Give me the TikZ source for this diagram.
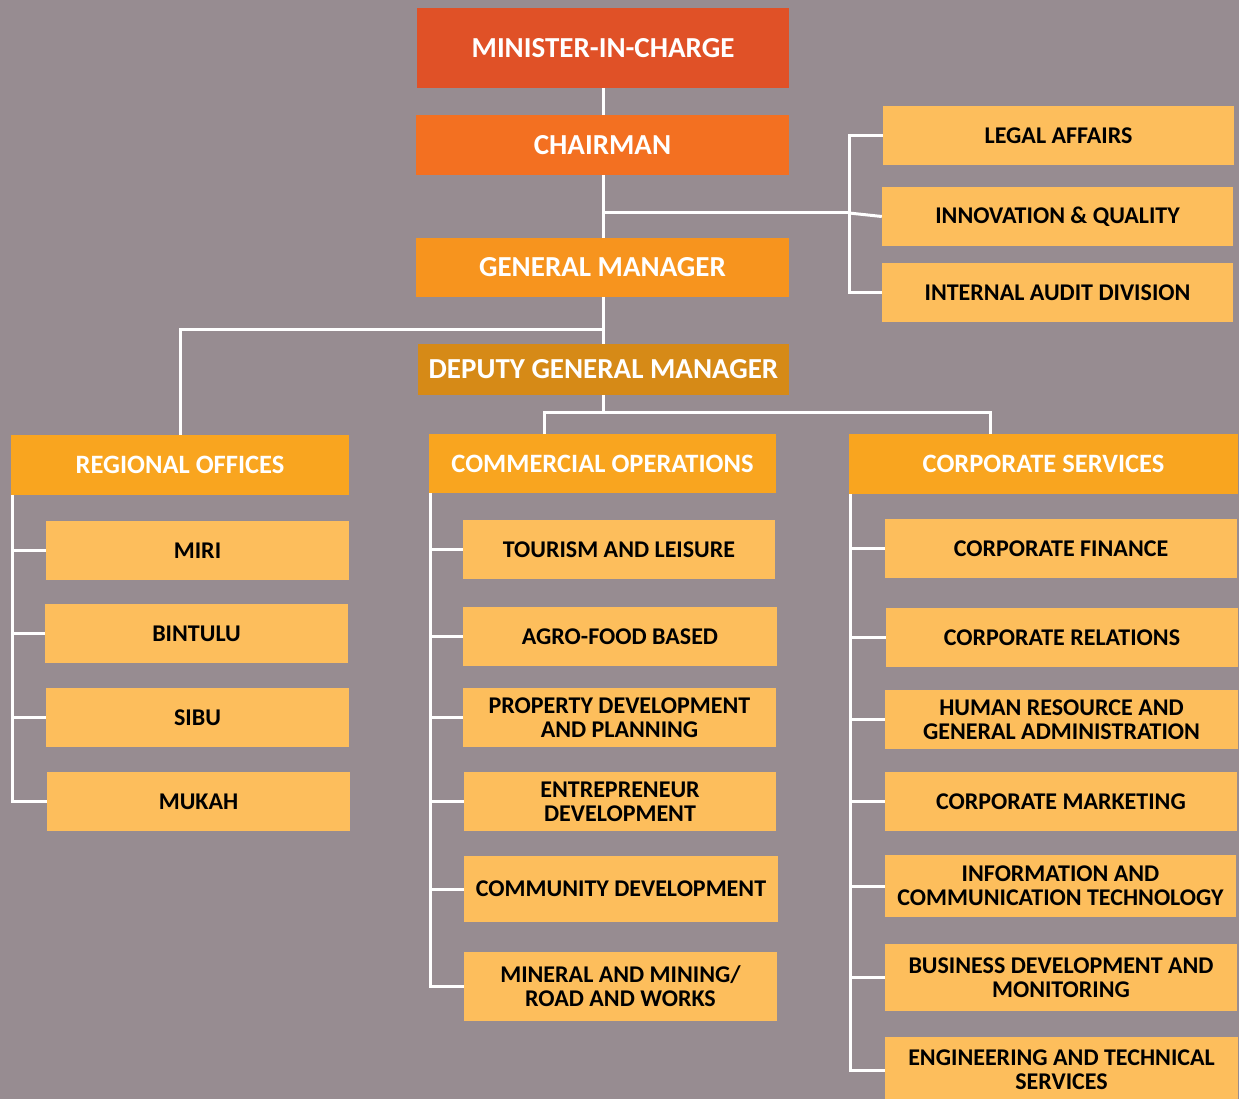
\documentclass[tikz,border=0pt]{standalone}
\usepackage{fontspec}
\setmainfont{Carlito}
\definecolor{bgmauve}{HTML}{978C91}
\definecolor{ministerred}{HTML}{E05127}
\definecolor{chairorange}{HTML}{F37021}
\definecolor{gmorange}{HTML}{F7941E}
\definecolor{dgmochre}{HTML}{D68A17}
\definecolor{headamber}{HTML}{F9A51F}
\definecolor{unitpeach}{HTML}{FDBE5C}

\begin{document}
\begin{tikzpicture}[x=1pt,y=-1pt,
  topbox/.style={rectangle,inner sep=0pt,text=white,font=\fontsize{29}{32}\bfseries\selectfont},
  headbox/.style={rectangle,inner sep=0pt,fill=headamber,text=white,font=\fontsize{26.5}{29}\bfseries\selectfont},
  unitbox/.style={rectangle,inner sep=0pt,fill=unitpeach,text=black,align=center,font=\fontsize{24}{24}\bfseries\selectfont},
  link/.style={white,line width=3pt}]
\useasboundingbox (0,0) rectangle (1239,1099);
\fill[bgmauve] (0,0) rectangle (1239,1099);

% top of the chart
\node[topbox,fill=ministerred,minimum width=372,minimum height=80] (minister) at (603,48) {MINISTER-IN-CHARGE};
\node[topbox,fill=chairorange,minimum width=373,minimum height=60] (chairman) at (602.5,145) {CHAIRMAN};
\node[topbox,fill=gmorange,minimum width=373,minimum height=59] (gm) at (602.5,267.5) {GENERAL MANAGER};
\node[topbox,fill=dgmochre,minimum width=371,minimum height=51] (dgm) at (603.5,369.5) {DEPUTY GENERAL MANAGER};

% units under the chairman
\node[unitbox,minimum width=351,minimum height=59] (legal) at (1058.5,135.5) {LEGAL AFFAIRS};
\node[unitbox,minimum width=351,minimum height=59] (innov) at (1057.5,216.5) {INNOVATION \& QUALITY};
\node[unitbox,minimum width=351,minimum height=59] (audit) at (1057.5,292.5) {INTERNAL AUDIT DIVISION};

% divisions
\node[headbox,minimum width=338,minimum height=60] (regional) at (180,465) {REGIONAL OFFICES};
\node[headbox,minimum width=347,minimum height=59] (commercial) at (602.5,463.5) {COMMERCIAL OPERATIONS};
\node[headbox,minimum width=389,minimum height=60] (corporate) at (1043.5,464) {CORPORATE SERVICES};

% regional offices
\node[unitbox,minimum width=303,minimum height=59] (miri) at (197.5,550.5) {MIRI};
\node[unitbox,minimum width=303,minimum height=59] (bintulu) at (196.5,633.5) {BINTULU};
\node[unitbox,minimum width=303,minimum height=59] (sibu) at (197.5,717.5) {SIBU};
\node[unitbox,minimum width=303,minimum height=59] (mukah) at (198.5,801.5) {MUKAH};

% commercial operations
\node[unitbox,minimum width=312,minimum height=59] (tourism) at (619,549.5) {TOURISM AND LEISURE};
\node[unitbox,minimum width=314,minimum height=59] (agro) at (620,636.5) {AGRO-FOOD BASED};
\node[unitbox,minimum width=313,minimum height=59] (property) at (619.5,717.5) {PROPERTY DEVELOPMENT\\AND PLANNING};
\node[unitbox,minimum width=312,minimum height=59] (entrepreneur) at (620,801.5) {ENTREPRENEUR\\DEVELOPMENT};
\node[unitbox,minimum width=314,minimum height=66] (community) at (621,889) {COMMUNITY DEVELOPMENT};
\node[unitbox,minimum width=313,minimum height=69] (mineral) at (620.5,986.5) {MINERAL AND MINING/\\ROAD AND WORKS};

% corporate services
\node[unitbox,minimum width=352,minimum height=59] (finance) at (1061,548.5) {CORPORATE FINANCE};
\node[unitbox,minimum width=352,minimum height=59] (relations) at (1062,637.5) {CORPORATE RELATIONS};
\node[unitbox,minimum width=353,minimum height=59] (hr) at (1061.5,719.5) {HUMAN RESOURCE AND\\GENERAL ADMINISTRATION};
\node[unitbox,minimum width=352,minimum height=59] (marketing) at (1061,801.5) {CORPORATE MARKETING};
\node[unitbox,minimum width=351,minimum height=62] (ict) at (1060.5,886) {INFORMATION AND\\COMMUNICATION TECHNOLOGY};
\node[unitbox,minimum width=352,minimum height=67] (business) at (1061,977.5) {BUSINESS DEVELOPMENT AND\\MONITORING};
\node[unitbox,minimum width=353,minimum height=66] (engineering) at (1061.5,1070) {ENGINEERING AND TECHNICAL\\SERVICES};

% connectors
\coordinate (chairbar) at (849,213);
\coordinate (gmbar) at (180,329);
\coordinate (dgmbarL) at (544,412);
\coordinate (dgmbarR) at (990,412);
\draw[link] (minister.south -| 603,0) -- (chairman.north -| 603,0);
\draw[link] (chairman.south -| 603,0) -- (gm.north -| 603,0);
\draw[link] (gm.south -| 603,0) -- (dgm.north -| 603,0);
\draw[link] (chairman.south -| 603,0) |- (chairbar);
\draw[link] (legal.west) -| (chairbar) |- (audit.west);
\draw[link] (chairbar) -- (innov.west);
\draw[link] (gm.south -| 603,0) |- (gmbar) -- (regional.north);
\draw[link] (dgm.south -| 603,0) -- (603,412);
\draw[link] (commercial.north -| dgmbarL) -- (dgmbarL) -- (dgmbarR) -- (corporate.north -| dgmbarR);

\draw[link] ([xshift=2pt]regional.south west) |- (mukah.west);
\foreach \u in {miri,bintulu,sibu}
  \draw[link] (13,0 |- \u.west) -- (\u.west);
\draw[link] ([xshift=2pt]commercial.south west) |- (mineral.west);
\foreach \u in {tourism,agro,property,entrepreneur,community}
  \draw[link] (431,0 |- \u.west) -- (\u.west);
\draw[link] ([xshift=2pt]corporate.south west) |- (engineering.west);
\foreach \u in {finance,relations,hr,marketing,ict,business}
  \draw[link] (851,0 |- \u.west) -- (\u.west);
\end{tikzpicture}
\end{document}
